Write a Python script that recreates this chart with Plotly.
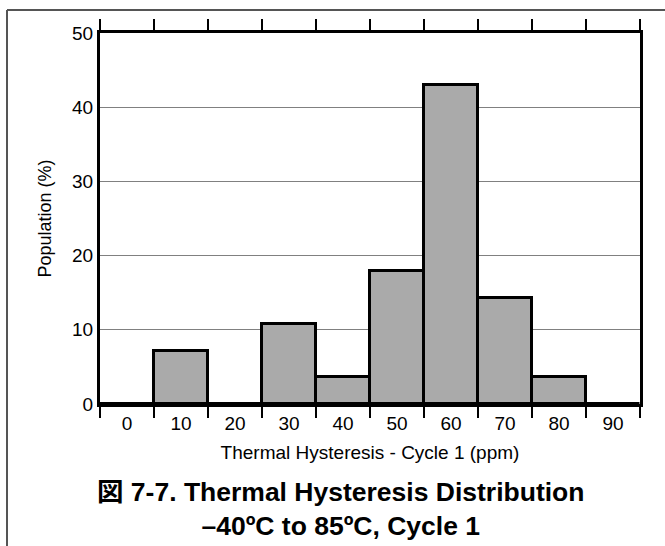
import plotly.graph_objects as go

categories = [0, 10, 20, 30, 40, 50, 60, 70, 80, 90]
population = [0, 7.2, 0, 10.8, 3.6, 17.9, 43.0, 14.3, 3.6, 0]
tick_labels = ["0", "10", "20", "30", "40", "50", "60", "70", "80", "90"]
bin_edges = [-5, 5, 15, 25, 35, 45, 55, 65, 75, 85, 95]
y_ticks = [0, 10, 20, 30, 40, 50]

FONT = "Arial, 'Liberation Sans', 'Noto Sans CJK JP', sans-serif"

W, H = 665, 546
ML, MT = 100, 33
MR = W - 640
MB = H - 404
PW, PH = W - ML - MR, H - MT - MB
TICKLEN = 11


def px_x(x):  # window px -> paper x
    return (x - ML) / PW


def px_y(y):  # window px -> paper y
    return (H - MB - y) / PH


fig = go.Figure()
fig.add_trace(go.Bar(
    x=categories, y=population, width=10,
    marker=dict(color="#aaaaaa", line=dict(color="black", width=3)),
    hoverinfo="skip",
))

fig.update_layout(
    width=W, height=H,
    margin=dict(l=ML, r=MR, t=MT, b=MB),
    paper_bgcolor="white", plot_bgcolor="white",
    showlegend=False, bargap=0,
    font=dict(family=FONT, color="black"),
    xaxis=dict(
        range=[-5, 95], tickmode="array", tickvals=categories, ticktext=tick_labels,
        ticks="", tickfont=dict(size=19),
        minor=dict(tickmode="array", tickvals=bin_edges, ticks="outside", ticklen=TICKLEN,
                   tickwidth=1.5, tickcolor="black", showgrid=False),
        showline=True, linecolor="black", linewidth=3, mirror="allticks",
        showgrid=False, zeroline=False,
        title=dict(text="Thermal Hysteresis - Cycle 1 (ppm)", font=dict(size=19), standoff=13),
    ),
    yaxis=dict(
        range=[0, 50], tickvals=y_ticks, ticks="", tickfont=dict(size=19),
        showline=True, linecolor="black", linewidth=3, mirror=True,
        showgrid=True, gridcolor="#808080", gridwidth=1, zeroline=False,
        title=dict(text="Population (%)", font=dict(size=18), standoff=16),
    ),
)

# top tick marks at the bin edges (through the x scale)
for e in bin_edges:
    fig.add_shape(type="line", xref="x", yref="paper",
                  x0=e, x1=e, y0=1, y1=1 + TICKLEN / PH,
                  line=dict(color="black", width=1.5))

# outer figure border (top and left edges visible)
border = dict(color="#555555", width=2)
fig.add_shape(type="line", xref="paper", yref="paper",
              x0=px_x(7), x1=px_x(680), y0=px_y(10), y1=px_y(10), line=border)
fig.add_shape(type="line", xref="paper", yref="paper",
              x0=px_x(7), x1=px_x(7), y0=px_y(10), y1=px_y(560), line=border)

fig.add_annotation(
    xref="paper", yref="paper", x=px_x(340), y=px_y(509),
    text="<b>図 7-7. Thermal Hysteresis Distribution<br>–40ºC to 85ºC, Cycle 1</b>",
    showarrow=False, font=dict(size=26.5), align="center",
    xanchor="center", yanchor="middle",
)

fig.write_html(
    "out.html",
    config={"displayModeBar": False},
    post_script="document.body.style.margin='0';document.body.style.overflow='hidden';",
)
